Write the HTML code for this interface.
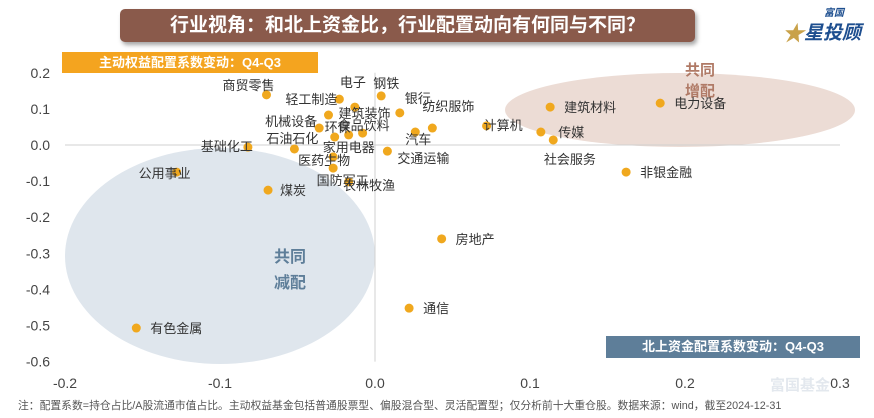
<!DOCTYPE html>
<html><head><meta charset="utf-8">
<style>
body{margin:0;background:#fff;font-family:"Liberation Sans","Noto Sans CJK SC",sans-serif;}
#wrap{position:relative;width:874px;height:418px;overflow:hidden;background:#fff}
.box{position:absolute;color:#fff;font-weight:bold;white-space:nowrap}
</style></head><body>
<div id="wrap">
<div class="box" style="left:120px;top:9px;width:575px;height:33px;background:#8a5a4b;border-radius:5px;box-shadow:2px 3px 4px rgba(0,0,0,0.35);font-size:19px;line-height:33px;text-align:center;">行业视角：和北上资金比，行业配置动向有何同与不同？</div>
<div style="position:absolute;left:780px;top:4px;width:90px;height:40px;color:#1d4e8f;font-weight:bold;font-style:italic;"><span style="position:absolute;left:44px;top:0;font-size:10px">富国</span><span style="position:absolute;left:2px;top:12px;font-size:22px;color:#c9a24a">★</span><span style="position:absolute;left:24px;top:14px;font-size:19px;white-space:nowrap">星投顾</span></div>
<div class="box" style="left:62px;top:52px;width:256px;height:21px;background:#f4a41f;font-size:13px;line-height:21px;text-align:center;">主动权益配置系数变动：Q4-Q3</div>
<div class="box" style="left:606px;top:336px;width:254px;height:22px;background:#5e7e99;font-size:13px;line-height:22px;text-align:center;">北上资金配置系数变动：Q4-Q3</div>
<svg id="chart" width="874" height="418" style="position:absolute;left:0;top:0"></svg>
<div style="position:absolute;left:18px;top:397px;font-size:10.8px;color:#555;white-space:nowrap">注：配置系数=持仓占比/A股流通市值占比。主动权益基金包括普通股票型、偏股混合型、灵活配置型；仅分析前十大重仓股。数据来源：wind，截至2024-12-31</div>
</div>
<script>
const names=["商贸零售","轻工制造","电子","钢铁","银行","建筑装饰","纺织服饰","机械设备","环保","食品饮料","计算机","传媒","社会服务","建筑材料","电力设备","汽车","石油石化","基础化工","家用电器","医药生物","交通运输","非银金融","公用事业","国防军工","煤炭","农林牧渔","房地产","通信","有色金属"];
const xVals=[-0.070,-0.023,-0.013,0.004,0.016,-0.030,0.037,-0.036,-0.017,-0.008,0.072,0.115,0.107,0.113,0.184,0.026,-0.052,-0.082,-0.026,-0.027,0.008,0.162,-0.128,-0.017,-0.069,-0.027,0.043,0.022,-0.154];
const yVals=[0.139,0.127,0.105,0.136,0.089,0.083,0.047,0.047,0.028,0.033,0.053,0.014,0.036,0.105,0.116,0.036,-0.011,-0.006,0.022,-0.033,-0.017,-0.075,-0.075,-0.102,-0.125,-0.064,-0.260,-0.452,-0.507];
const xTicks=[-0.2,-0.1,0.0,0.1,0.2,0.3];
const yTicks=[0.2,0.1,0.0,-0.1,-0.2,-0.3,-0.4,-0.5,-0.6];
const xTickLabels=["-0.2","-0.1","0.0","0.1","0.2","0.3"];
const yTickLabels=["0.2","0.1","0.0","-0.1","-0.2","-0.3","-0.4","-0.5","-0.6"];
// label layout: [anchor, dx, dy]
const labelPos=[["end",8,-5],["end",-2,5],["middle",-2,-20],["start",-8,-8],["start",5,-10],["start",10,3],["start",-10,-17],["end",-2,-2],["end",2,-3],["start",-25,-3],["start",-3,4],["start",5,-3],["start",3,32],["start",14,5],["start",14,5],["start",-10,12],["end",24,-6],["end",5,4],["start",-12,15],["start",-35,8],["start",10,12],["start",14,5],["end",14,6],["start",-32,3],["start",12,5],["start",10,22],["start",14,5],["start",14,5],["start",14,5]];
const X=v=>375+v*1550, Y=v=>145-v*361;
const NS="http://www.w3.org/2000/svg", svg=document.getElementById('chart');
function mk(t,a){const e=document.createElementNS(NS,t);for(const k in a)e.setAttribute(k,a[k]);svg.appendChild(e);return e;}
let e;
e=mk('ellipse',{cx:680,cy:110,rx:175,ry:37,fill:'#ecdcd5'});


e=mk('ellipse',{cx:220,cy:256,rx:155,ry:108,fill:'#dfe6ed'});


e=mk('text',{x:700,y:75,fill:'#b07a66','font-size':15,'font-weight':'bold','text-anchor':'middle'});e.textContent='共同';


e=mk('text',{x:700,y:96,fill:'#b07a66','font-size':15,'font-weight':'bold','text-anchor':'middle'});e.textContent='增配';


e=mk('text',{x:290,y:262,fill:'#5e7e99','font-size':16,'font-weight':'bold','text-anchor':'middle'});e.textContent='共同';


e=mk('text',{x:290,y:288,fill:'#5e7e99','font-size':16,'font-weight':'bold','text-anchor':'middle'});e.textContent='减配';


e=mk('text',{x:800,y:390,fill:'#e3e8ee','font-size':15,'font-weight':'bold','text-anchor':'middle'});e.textContent='富国基金';


e=mk('line',{x1:65,x2:840,y1:Y(0),y2:Y(0),stroke:'#d0d0d0','stroke-width':1});


e=mk('line',{x1:X(0),x2:X(0),y1:Y(0.2),y2:Y(-0.6),stroke:'#d0d0d0','stroke-width':1});


xTicks.forEach((v,i)=>{const t=mk('text',{x:X(v),y:388,'text-anchor':'middle','font-size':14,fill:'#444'});t.textContent=xTickLabels[i];

});
yTicks.forEach((v,i)=>{const t=mk('text',{x:50,y:Y(v)+5,'text-anchor':'end','font-size':14,fill:'#444'});t.textContent=yTickLabels[i];

});
names.forEach((n,i)=>{const cx=X(xVals[i]),cy=Y(yVals[i]);
const c=mk('circle',{cx:cx,cy:cy,r:4.5,fill:'#f0a81e'});


const p=labelPos[i];const t=mk('text',{x:cx+p[1],y:cy+p[2],'text-anchor':p[0],'font-size':13,fill:'#333'});t.textContent=n;

});
</script>
</body></html>
